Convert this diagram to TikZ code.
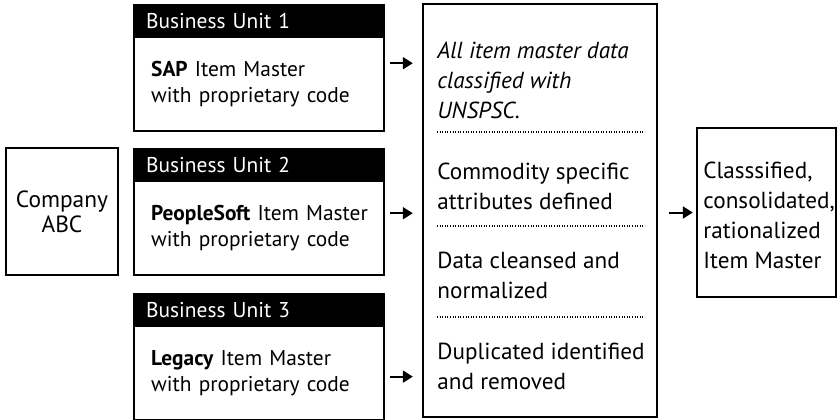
\documentclass[tikz,border=0pt]{standalone}
\usepackage{fontspec}
\setmainfont{PT Sans}
\usetikzlibrary{arrows.meta}

\tikzset{
  box/.style={draw,line width=1.2pt,rectangle,inner sep=0pt},
  unithead/.style={box,fill=black,text=white,anchor=north west,inner xsep=6pt,
    text width=113pt,minimum height=16pt,align=left,
    font=\fontsize{10.7}{13}\selectfont},
  unitbody/.style={box,anchor=north west,inner xsep=8.5pt,text width=108pt,
    minimum height=47pt,align=left,font=\fontsize{10.7}{13}\selectfont},
  steptext/.style={anchor=west,inner sep=0pt,align=left,
    font=\fontsize{11.6}{15}\selectfont},
  flow/.style={line width=1pt,-{Triangle[length=5pt,width=6pt]}},
  sep/.style={line width=0.6pt,dash pattern=on 0.4pt off 0.9pt}
}

\begin{document}
\begin{tikzpicture}[x=0.5pt,y=-0.5pt]
  \useasboundingbox (0,0) rectangle (838,419);

  \draw (62,211.5) node[box,minimum width=56pt,minimum height=63.5pt,align=center,
    font=\fontsize{11.7}{12.5}\selectfont] (company) {Company\\ABC};

  \draw (133,36) node[unitbody] (body1) {\textbf{SAP} Item Master\\with proprietary code};
  \draw (133,4) node[unithead] (head1) {Business Unit 1};
  \draw (133,180) node[unitbody] (body2) {\mbox{\textbf{PeopleSoft} Item Master}\\with proprietary code};
  \draw (133,148) node[unithead] (head2) {Business Unit 2};
  \draw (133,325) node[unitbody] (body3) {\textbf{Legacy} Item Master\\with proprietary code};
  \draw (133,293) node[unithead] (head3) {Business Unit 3};

  \draw (540,210.5) node[box,minimum width=117pt,minimum height=206.5pt] (stack) {};
  \draw (437,80) node[steptext] (s1) {\itshape All item master data\\\itshape classified with\\\itshape UNSPSC.};
  \draw (437,186) node[steptext] (s2) {Commodity specific\\attributes defined};
  \draw (437,275) node[steptext] (s3) {Data cleansed and\\normalized};
  \draw (437,366) node[steptext] (s4) {Duplicated identified\\and removed};

  \draw[sep] (437,132) -- (645,132);
  \draw[sep] (437,226) -- (645,226);
  \draw[sep] (437,317) -- (645,317);

  \draw (766.5,212.5) node[box,minimum width=69.5pt,minimum height=84.5pt] (result) {};
  \draw (703,215) node[steptext] (rtext) {Classsified,\\consolidated,\\rationalized\\Item Master};

  \draw[flow,shorten <=2.5pt,shorten >=4.5pt] ([yshift=10.5pt]body1.east) -- ([yshift=10.5pt]body1.east -| stack.west);
  \draw[flow,shorten <=2.5pt,shorten >=4.5pt] ([yshift=7.5pt]body2.east) -- ([yshift=7.5pt]body2.east -| stack.west);
  \draw[flow,shorten <=2.5pt,shorten >=4.5pt] ([yshift=-1.7pt]body3.east) -- ([yshift=-1.7pt]body3.east -| stack.west);
  \draw[flow,shorten <=5.5pt,shorten >=1.5pt] (stack.east |- result.west) -- (result.west);

\end{tikzpicture}
\end{document}
